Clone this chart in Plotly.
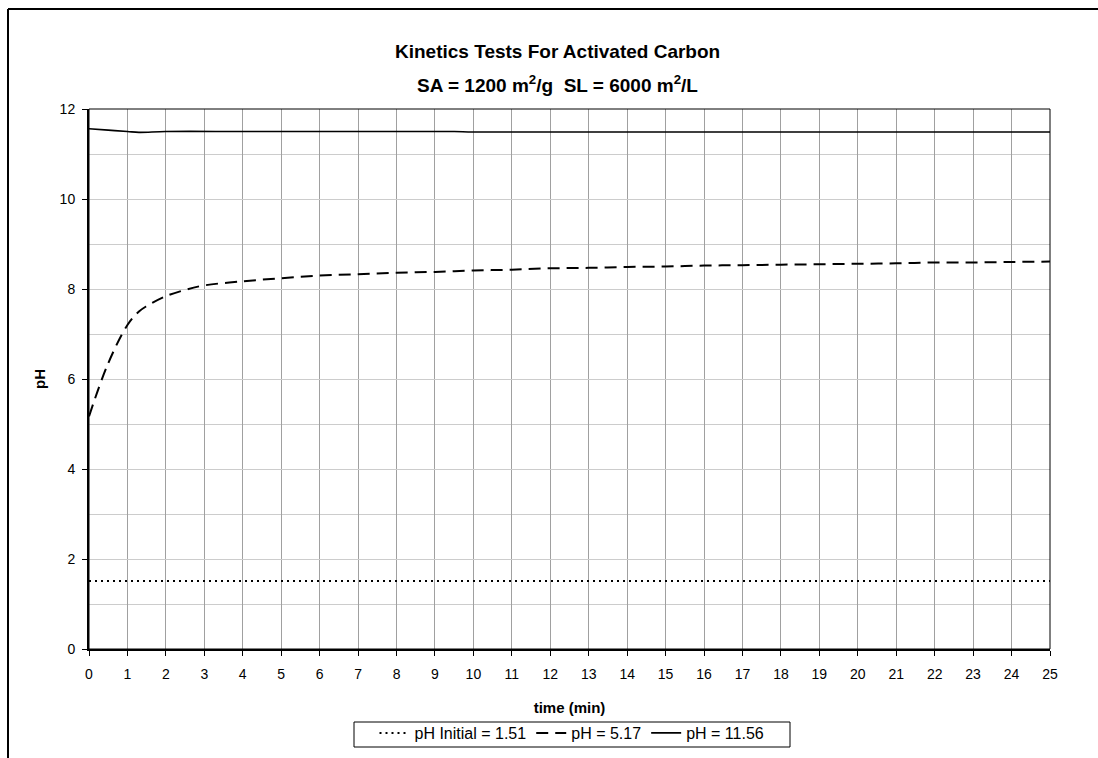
import plotly.graph_objects as go

# Data
time_initial = [0, 5, 10, 15, 20, 25]
ph_initial = [1.51, 1.51, 1.51, 1.51, 1.51, 1.51]

time_517 = [0, 0.5, 1, 1.3, 1.5, 2, 2.5, 3, 4, 5, 6, 7, 8, 9, 10, 11, 12, 13, 14, 15,
            16, 17, 18, 19, 20, 21, 22, 23, 24, 25]
ph_517 = [5.17, 6.35, 7.2, 7.5, 7.62, 7.84, 7.98, 8.08, 8.17, 8.24, 8.3, 8.33, 8.36, 8.38,
          8.41, 8.43, 8.46, 8.47, 8.49, 8.5, 8.52, 8.53, 8.54, 8.55, 8.56, 8.57, 8.59,
          8.59, 8.6, 8.61]

time_1156 = [0, 0.5, 1, 1.3, 2, 4, 6, 8, 9.5, 10, 15, 20, 25]
ph_1156 = [11.56, 11.53, 11.5, 11.48, 11.5, 11.5, 11.5, 11.5, 11.5, 11.49, 11.49, 11.49, 11.49]

x_ticks = list(range(0, 26))
y_ticks = [0, 2, 4, 6, 8, 10, 12]

title_line1 = "Kinetics Tests For Activated Carbon"
title_line2 = "SA = 1200 m<sup>2</sup>/g  SL = 6000 m<sup>2</sup>/L"

FONT = "Liberation Sans, Arial, sans-serif"

# plot area in pixels: x 89..1050, y 109..649
L, R, T, B = 89, 1050, 109, 649
W, H = R - L, B - T


def px_x(p):
    return (p - L) / W


def px_y(p):
    return (B - p) / H


fig = go.Figure()
fig.add_trace(go.Scatter(x=time_initial, y=ph_initial, mode="lines",
                         name="pH Initial = 1.51",
                         line=dict(color="black", width=2, dash="2px,4px")))
fig.add_trace(go.Scatter(x=time_517, y=ph_517, mode="lines", name="pH = 5.17",
                         line=dict(color="black", width=2, dash="12px,7px", shape="spline")))
fig.add_trace(go.Scatter(x=time_1156, y=ph_1156, mode="lines", name="pH = 11.56",
                         line=dict(color="black", width=1.6, shape="spline")))

# plot-area border (thin)
fig.add_shape(type="rect", xref="paper", yref="paper", x0=0, y0=0, x1=1, y1=1,
              line=dict(color="black", width=1), layer="above")
# outer chart frame (left and top edges visible)
fig.add_shape(type="line", xref="paper", yref="paper",
              x0=px_x(8), y0=px_y(9), x1=px_x(8), y1=px_y(758),
              line=dict(color="black", width=2), layer="above")
fig.add_shape(type="line", xref="paper", yref="paper",
              x0=px_x(8), y0=px_y(9), x1=px_x(1098), y1=px_y(9),
              line=dict(color="black", width=2), layer="above")
# legend box
fig.add_shape(type="rect", xref="paper", yref="paper",
              x0=px_x(354), y0=px_y(722), x1=px_x(790), y1=px_y(747),
              line=dict(color="black", width=1), fillcolor="white", layer="below")

fig.add_annotation(text="<b>" + title_line1 + "</b>", xref="paper", yref="paper",
                   x=px_x(557), y=px_y(52), xanchor="center", yanchor="middle", showarrow=False,
                   font=dict(family=FONT, size=19, color="black"))
fig.add_annotation(text="<b>" + title_line2 + "</b>", xref="paper", yref="paper",
                   x=px_x(557), y=px_y(84), xanchor="center", yanchor="middle", showarrow=False,
                   font=dict(family=FONT, size=19, color="black"))

fig.update_layout(
    width=1098, height=758,
    margin=dict(l=L, r=1098 - R, t=T, b=758 - B, autoexpand=False),
    paper_bgcolor="white", plot_bgcolor="white",
    font=dict(family=FONT, size=14, color="black"),
    xaxis=dict(
        range=[0, 25], tickmode="array", tickvals=x_ticks,
        showgrid=True, gridcolor="#a0a0a0", gridwidth=1,
        showline=True, linecolor="black", linewidth=2,
        ticks="outside", ticklen=5, tickcolor="black", tickwidth=1,
        zeroline=False, ticklabelstandoff=6,
        tickfont=dict(family=FONT, size=14),
        title=dict(text="<b>time (min)</b>", font=dict(family=FONT, size=15), standoff=22),
    ),
    yaxis=dict(
        range=[0, 12], tickmode="array", tickvals=y_ticks,
        showgrid=True, gridcolor="#cccccc", gridwidth=1,
        minor=dict(dtick=1, showgrid=True, gridcolor="#cccccc", gridwidth=1, ticks=""),
        showline=True, linecolor="black", linewidth=2,
        ticks="outside", ticklen=5, tickcolor="black", tickwidth=1,
        zeroline=False, ticklabelstandoff=4,
        tickfont=dict(family=FONT, size=14),
        title=dict(text="<b>pH</b>", font=dict(family=FONT, size=15), standoff=10),
    ),
    legend=dict(
        orientation="h", x=px_x(572), xanchor="center", y=px_y(716), yanchor="top",
        borderwidth=0, bgcolor="rgba(0,0,0,0)",
        font=dict(family=FONT, size=16), itemwidth=30,
        tracegroupgap=0,
    ),
    showlegend=True,
)

fig.write_html("out.html")
